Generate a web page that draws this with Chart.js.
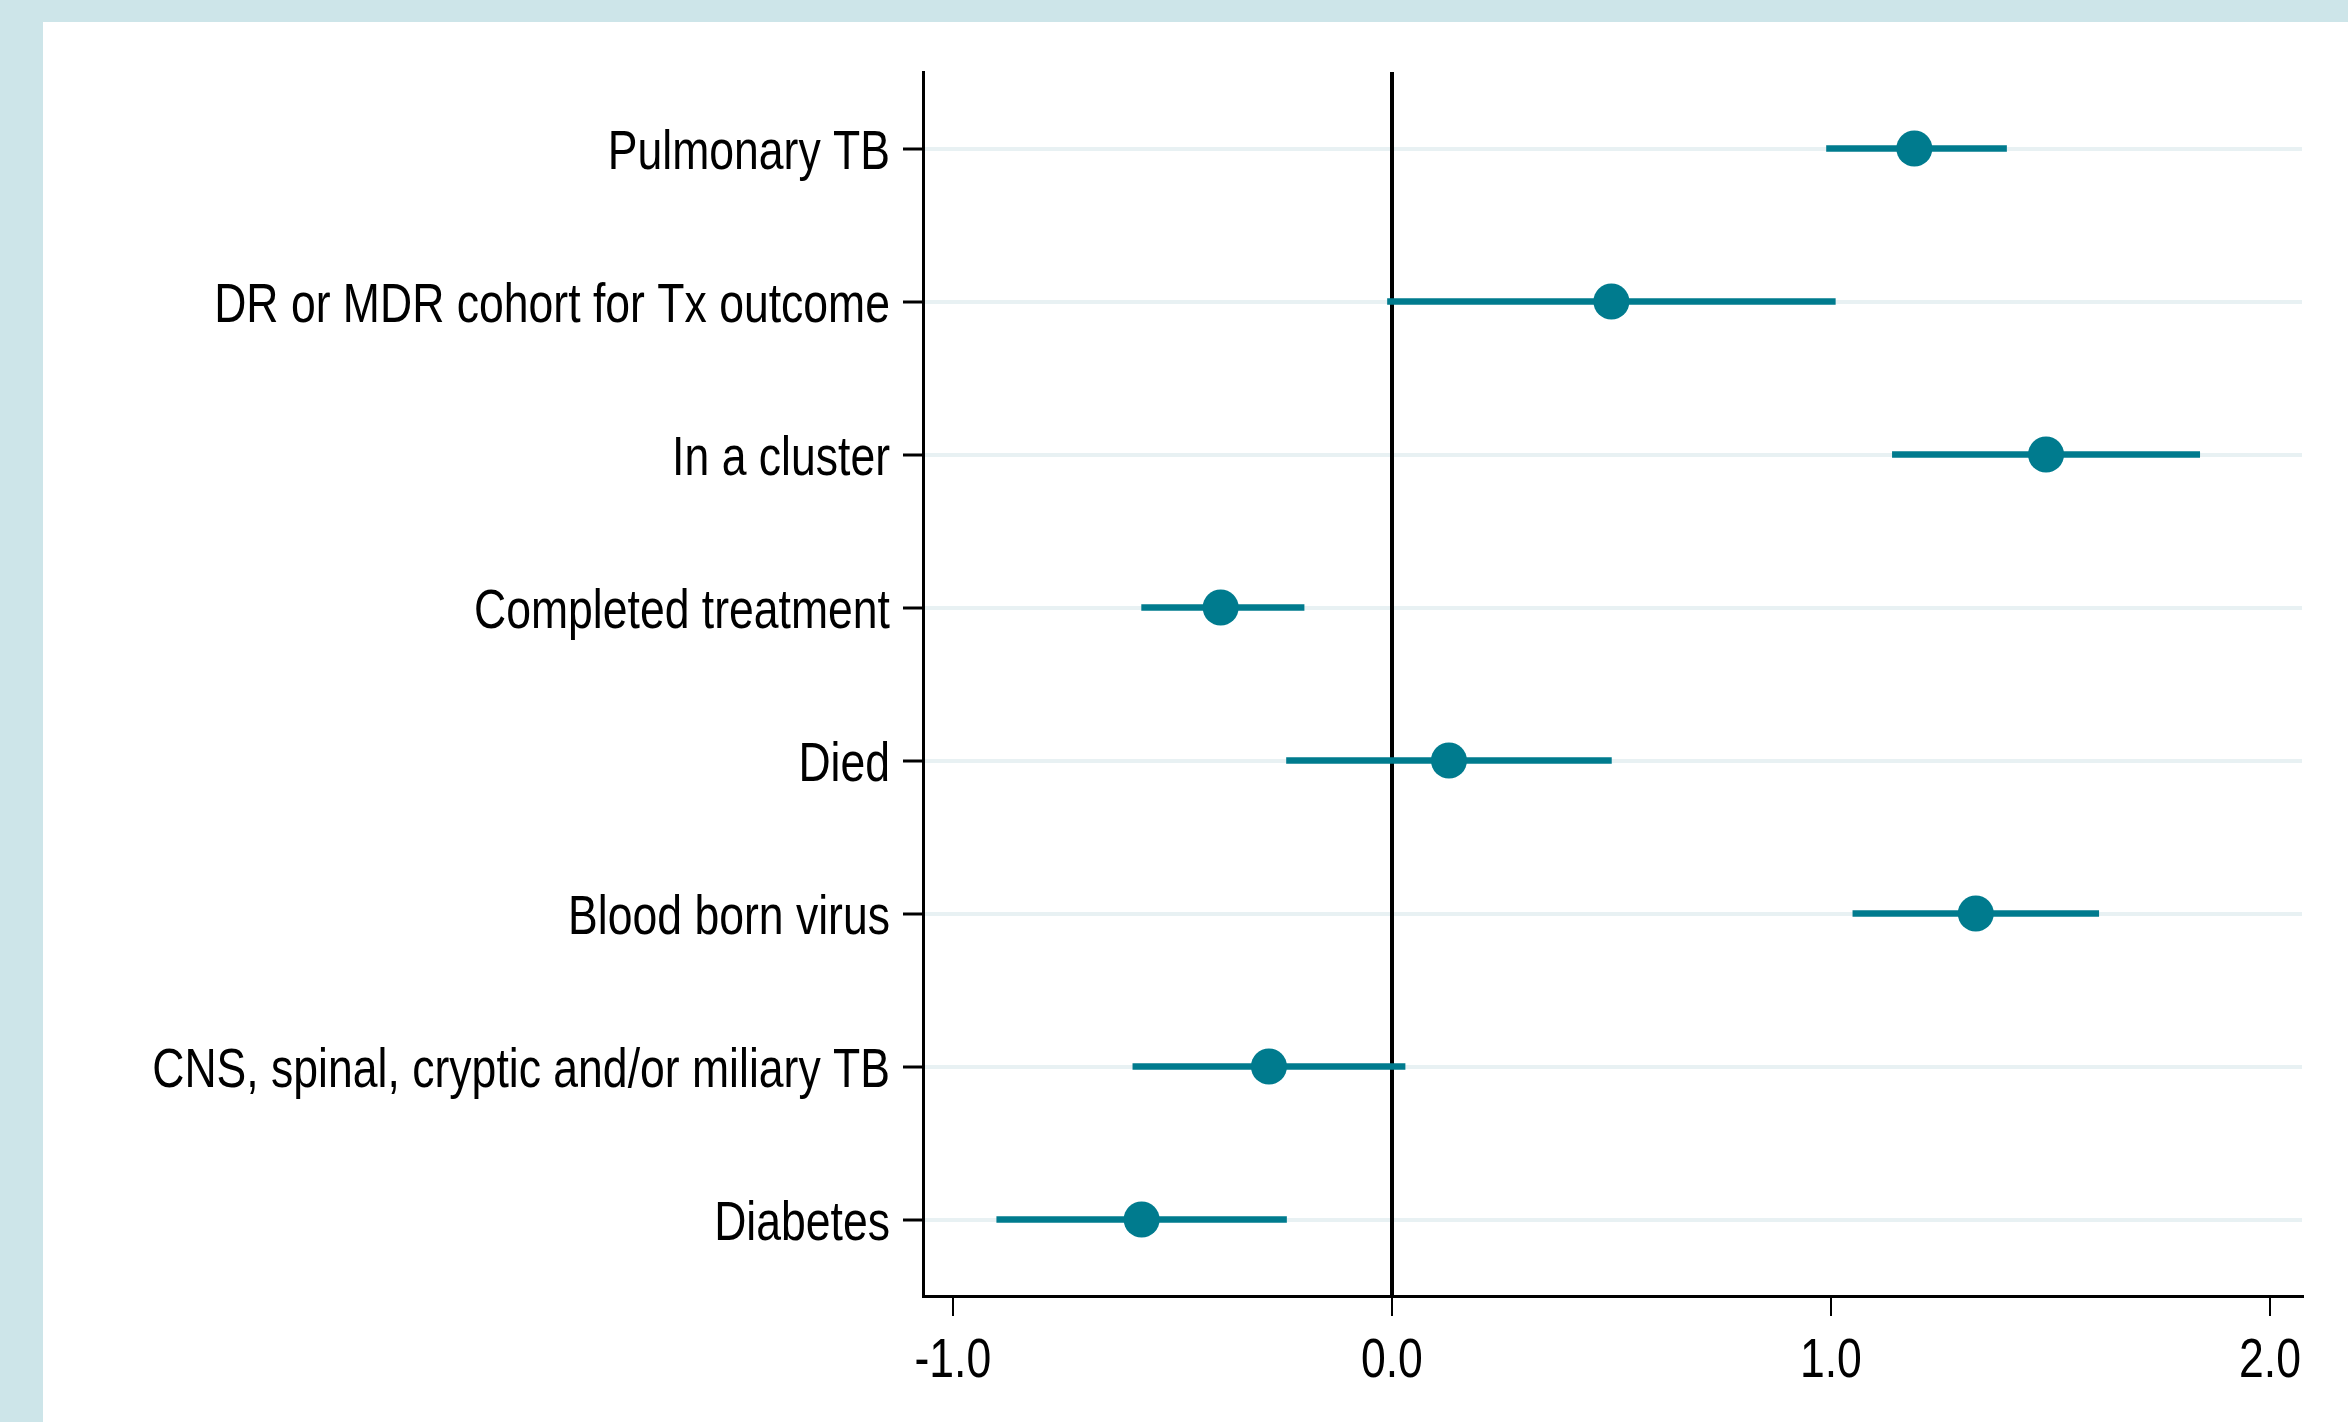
<!DOCTYPE html>
<html lang="en">
<head>
  <meta charset="UTF-8" />
  <title>Forest plot</title>
  <script src="https://cdn.jsdelivr.net/npm/chart.js"></script>
  <style>
    html, body { margin: 0; padding: 0; background: #cde5e9; width: 2348px; height: 1422px; overflow: hidden; }
    .panel { position: absolute; left: 43px; top: 22px; width: 2305px; height: 1400px; background: #fff; }
  </style>
</head>
<body>
  <div class="panel">
    <canvas id="forest" width="2305" height="1400"></canvas>
  </div>

  <script>
    // rows, top to bottom
    const categories = [
      'Pulmonary TB',
      'DR or MDR cohort for Tx outcome',
      'In a cluster',
      'Completed treatment',
      'Died',
      'Blood born virus',
      'CNS, spinal, cryptic and/or miliary TB',
      'Diabetes'
    ];
    const estimate = [1.19, 0.50, 1.49, -0.39, 0.13, 1.33, -0.28, -0.57];
    const lower    = [0.99, -0.01, 1.14, -0.57, -0.24, 1.05, -0.59, -0.90];
    const upper    = [1.40, 1.01, 1.84, -0.20, 0.50, 1.61, 0.03, -0.24];
    const xTicks   = [-1, 0, 1, 2];

    const teal = '#007b8e';

    // the original uses a condensed face, so squeeze Liberation Sans sideways
    const narrowLabels = {
      id: 'narrowLabels',
      afterDraw(chart) {
        const c = chart.ctx;
        const xs = chart.scales.x, ys = chart.scales.y;
        const squeeze = 0.81;
        c.save();
        c.font = "55px 'Liberation Sans', Arial, sans-serif";
        c.fillStyle = '#000';
        c.textBaseline = 'alphabetic';

        c.textAlign = 'right';
        categories.forEach((lab, i) => {
          c.save();
          c.translate(ys.right - 33, ys.getPixelForValue(i) + 20);
          c.scale(squeeze, 1);
          c.fillText(lab, 0, 0);
          c.restore();
        });

        c.textAlign = 'center';
        xTicks.forEach(v => {
          c.save();
          c.translate(xs.getPixelForValue(v), xs.top + 81);
          c.scale(squeeze, 1);
          c.fillText(v.toFixed(1), 0, 0);
          c.restore();
        });
        c.restore();
      }
    };

    const ctx = document.getElementById('forest').getContext('2d');
    new Chart(ctx, {
      type: 'bar',
      data: {
        labels: categories,
        datasets: [
          {
            type: 'line',
            indexAxis: 'y',
            data: estimate,
            showLine: false,
            pointRadius: 18,
            pointBackgroundColor: teal,
            pointBorderWidth: 0,
            order: 0
          },
          {
            type: 'bar',
            indexAxis: 'y',
            data: lower.map((lo, i) => [lo, upper[i]]),
            backgroundColor: teal,
            borderWidth: 0,
            barThickness: 6,
            order: 1
          }
        ]
      },
      options: {
        indexAxis: 'y',
        responsive: false,
        animation: false,
        layout: { padding: { top: 50, right: 46, left: 0, bottom: 0 } },
        plugins: { legend: { display: false }, tooltip: { enabled: false } },
        scales: {
          x: {
            type: 'linear',
            min: -1.068,
            max: 2.073,
            afterFit: s => { s.height = 126; },
            afterBuildTicks: s => { s.ticks = xTicks.map(v => ({ value: v })); },
            ticks: { display: false },
            grid: {
              z: -1,
              color: c => (c.tick && c.tick.value === 0) ? '#000' : 'rgba(0,0,0,0)',
              lineWidth: 4,
              tickColor: '#000',
              tickWidth: 2,
              tickLength: 20
            },
            border: { color: '#000', width: 3 }
          },
          y: {
            type: 'category',
            offset: true,
            afterFit: s => { s.width = 880; },
            ticks: { display: false },
            grid: {
              z: -2,
              offset: false,
              color: '#e8f1f3',
              lineWidth: 4,
              tickColor: '#000',
              tickWidth: 3,
              tickLength: 20
            },
            border: { color: '#000', width: 3 }
          }
        }
      },
      plugins: [narrowLabels]
    });
  </script>
</body>
</html>
